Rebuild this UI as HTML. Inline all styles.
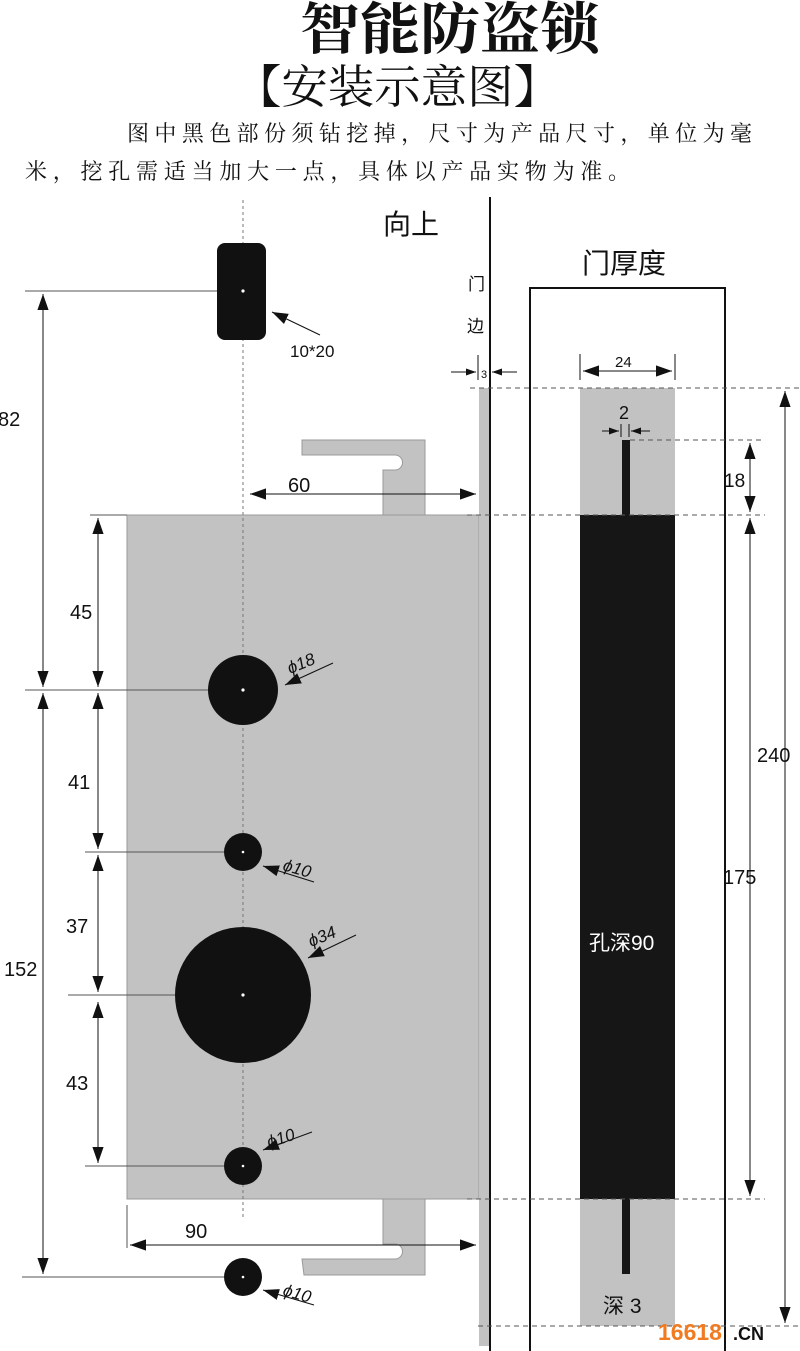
<!DOCTYPE html>
<html><head><meta charset="utf-8"><style>
html,body{margin:0;padding:0;background:#fff;}
svg{display:block;}
text{font-family:"Liberation Sans","Noto Sans CJK SC",sans-serif;fill:#111;}
.s{font-family:"Liberation Serif","Noto Serif CJK SC",serif;}
</style></head><body>
<svg width="800" height="1351" viewBox="0 0 800 1351" xmlns="http://www.w3.org/2000/svg">
<defs>
<marker id="a" viewBox="0 0 10 10" refX="10" refY="5" markerWidth="10" markerHeight="10" markerUnits="userSpaceOnUse" orient="auto-start-reverse"><path d="M0,1.5 L10,5 L0,8.5 Z" fill="#111"/></marker>
<marker id="b" viewBox="0 0 10 10" refX="10" refY="5" markerWidth="16" markerHeight="16" markerUnits="userSpaceOnUse" orient="auto-start-reverse"><path d="M0,1.5 L10,5 L0,8.5 Z" fill="#111"/></marker>
</defs>
<!-- header -->
<text x="300" y="49" font-size="56" font-weight="bold" textLength="300" lengthAdjust="spacingAndGlyphs" style="font-family:'Noto Serif CJK SC',serif">智能防盗锁</text>
<text x="235" y="103" font-size="46" textLength="325" lengthAdjust="spacingAndGlyphs" style="font-family:'Noto Serif CJK SC',serif">【安装示意图】</text>
<text x="127" y="141" font-size="22" textLength="625" style="font-family:'Noto Serif CJK SC',serif">图中黑色部份须钻挖掉，尺寸为产品尺寸，单位为毫</text>
<text x="25" y="179" font-size="22" textLength="605" style="font-family:'Noto Serif CJK SC',serif">米，挖孔需适当加大一点，具体以产品实物为准。</text>

<!-- lock body -->
<rect x="127" y="515" width="352" height="684" fill="#c2c2c2" stroke="#999" stroke-width="1"/>
<path d="M302,440 H425 V515 H383 V470 H395 A7.5,7.5 0 0 0 395,455 H302 Z" fill="#c2c2c2" stroke="#999"/>
<path d="M383,1199 H425 V1275 H304 L302,1259 H395 A7.5,7.5 0 0 0 395,1244 H383 Z" fill="#c2c2c2" stroke="#999"/>
<rect x="479" y="388" width="11" height="958" fill="#c2c2c2"/>
<line x1="490" y1="197" x2="490" y2="1351" stroke="#111" stroke-width="2"/>

<!-- centerline -->
<line x1="243" y1="200" x2="243" y2="1220" stroke="#777" stroke-width="1" stroke-dasharray="3,3"/>

<!-- keyhole -->
<rect x="217" y="243" width="49" height="97" rx="8" fill="#111"/>
<circle cx="243" cy="291" r="1.6" fill="#fff"/>
<line x1="320" y1="335" x2="272" y2="312" stroke="#111" marker-end="url(#b)"/>
<text x="290" y="357" font-size="17">10*20</text>

<!-- holes -->
<g fill="#111">
<circle cx="243" cy="690" r="35"/><circle cx="243" cy="852" r="19"/>
<circle cx="243" cy="995" r="68"/><circle cx="243" cy="1166" r="19"/>
<circle cx="243" cy="1277" r="19"/></g>
<g fill="#fff"><circle cx="243" cy="690" r="1.6"/><circle cx="243" cy="852" r="1.3"/><circle cx="243" cy="995" r="1.6"/><circle cx="243" cy="1166" r="1.3"/><circle cx="243" cy="1277" r="1.3"/></g>

<!-- horizontal ext lines -->
<g stroke="#555" stroke-width="1">
<line x1="25" y1="291" x2="217" y2="291"/>
<line x1="25" y1="690" x2="208" y2="690"/>
<line x1="85" y1="852" x2="224" y2="852"/>
<line x1="68" y1="995" x2="175" y2="995"/>
<line x1="85" y1="1166" x2="224" y2="1166"/>
<line x1="22" y1="1277" x2="224" y2="1277"/>
<line x1="90" y1="515" x2="127" y2="515"/>
<line x1="127" y1="1205" x2="127" y2="1248"/>
</g>
<!-- vertical dims -->
<g stroke="#111" stroke-width="1" fill="none">
<line x1="43" y1="294" x2="43" y2="687" marker-start="url(#b)" marker-end="url(#b)"/>
<line x1="43" y1="693" x2="43" y2="1274" marker-start="url(#b)" marker-end="url(#b)"/>
<line x1="98" y1="518" x2="98" y2="687" marker-start="url(#b)" marker-end="url(#b)"/>
<line x1="98" y1="693" x2="98" y2="849" marker-start="url(#b)" marker-end="url(#b)"/>
<line x1="98" y1="855" x2="98" y2="992" marker-start="url(#b)" marker-end="url(#b)"/>
<line x1="98" y1="1002" x2="98" y2="1163" marker-start="url(#b)" marker-end="url(#b)"/>
<line x1="250" y1="494" x2="476" y2="494" marker-start="url(#b)" marker-end="url(#b)"/>
<line x1="130" y1="1245" x2="476" y2="1245" marker-start="url(#b)" marker-end="url(#b)"/>
</g>
<g font-size="20">
<text x="-2" y="426">82</text>
<text x="4" y="976">152</text>
<text x="70" y="619">45</text>
<text x="68" y="789">41</text>
<text x="66" y="933">37</text>
<text x="66" y="1090">43</text>
<text x="288" y="492">60</text>
<text x="185" y="1238">90</text>
</g>
<!-- diameter leaders -->
<g stroke="#111" stroke-width="1">
<line x1="333" y1="663" x2="285" y2="685" marker-end="url(#b)"/>
<line x1="314" y1="882" x2="263" y2="866" marker-end="url(#b)"/>
<line x1="356" y1="935" x2="308" y2="958" marker-end="url(#b)"/>
<line x1="312" y1="1132" x2="263" y2="1150" marker-end="url(#b)"/>
<line x1="314" y1="1305" x2="263" y2="1290" marker-end="url(#b)"/>
</g>
<g font-size="17" font-style="italic">
<text x="290" y="674" transform="rotate(-22 290 674)">ϕ18</text>
<text x="282" y="870" transform="rotate(16 282 870)">ϕ10</text>
<text x="311" y="947" transform="rotate(-22 311 947)">ϕ34</text>
<text x="269" y="1148" transform="rotate(-18 269 1148)">ϕ10</text>
<text x="282" y="1295" transform="rotate(16 282 1295)">ϕ10</text>
</g>

<!-- top labels -->
<text x="383" y="234" font-size="28" style="font-family:'Noto Sans CJK SC',sans-serif">向上</text>
<text x="468" y="290" font-size="17" style="font-family:'Noto Sans CJK SC',sans-serif">门</text>
<text x="467" y="332" font-size="17" style="font-family:'Noto Sans CJK SC',sans-serif">边</text>
<line x1="478" y1="355" x2="478" y2="380" stroke="#111"/>
<line x1="451" y1="372" x2="476" y2="372" stroke="#111" marker-end="url(#a)"/>
<line x1="517" y1="372" x2="492" y2="372" stroke="#111" marker-end="url(#a)"/>
<text x="481" y="378" font-size="11">3</text>

<!-- door thickness -->
<text x="582" y="273" font-size="28" style="font-family:'Noto Sans CJK SC',sans-serif">门厚度</text>
<rect x="530" y="288" width="195" height="1075" fill="none" stroke="#111" stroke-width="2"/>
<rect x="580" y="388" width="95" height="938" fill="#c2c2c2"/>
<rect x="580" y="515" width="95" height="684" fill="#161616"/>
<rect x="622" y="440" width="8" height="76" fill="#161616"/>
<rect x="622" y="1198" width="8" height="76" fill="#161616"/>
<g stroke="#111">
<line x1="580" y1="354" x2="580" y2="380"/><line x1="675" y1="354" x2="675" y2="380"/>
<line x1="583" y1="371" x2="672" y2="371" marker-start="url(#b)" marker-end="url(#b)"/>
<line x1="621" y1="424" x2="621" y2="437"/><line x1="629" y1="424" x2="629" y2="437"/>
<line x1="602" y1="431" x2="619" y2="431" marker-end="url(#a)"/>
<line x1="650" y1="431" x2="631" y2="431" marker-end="url(#a)"/>
<line x1="750" y1="443" x2="750" y2="512" marker-start="url(#b)" marker-end="url(#b)"/>
<line x1="750" y1="518" x2="750" y2="1196" marker-start="url(#b)" marker-end="url(#b)"/>
<line x1="785" y1="391" x2="785" y2="1323" marker-start="url(#b)" marker-end="url(#b)"/>
</g>
<g stroke="#555" stroke-dasharray="5,4" stroke-width="1">
<line x1="470" y1="388" x2="800" y2="388"/>
<line x1="630" y1="440" x2="765" y2="440"/>
<line x1="467" y1="515" x2="765" y2="515"/>
<line x1="467" y1="1199" x2="765" y2="1199"/>
<line x1="478" y1="1326" x2="800" y2="1326"/>
</g>
<text x="615" y="367" font-size="15">24</text>
<text x="619" y="419" font-size="18">2</text>
<text x="724" y="487" font-size="19">18</text>
<text x="723" y="884" font-size="20">175</text>
<text x="757" y="762" font-size="20">240</text>
<text x="589" y="950" font-size="21" style="fill:#fff">孔深90</text>
<text x="603" y="1313" font-size="21">深 3</text>
<text x="658" y="1340" font-size="23" font-weight="bold" style="fill:#f07b20">16618</text>
<text x="733" y="1340" font-size="18" font-weight="bold">.CN</text>
</svg>
</body></html>
